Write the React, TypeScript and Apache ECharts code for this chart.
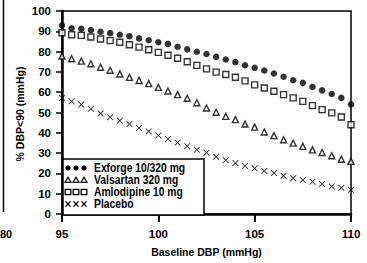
import React, { useEffect, useRef } from "react";
import * as echarts from "echarts";

const baselineDBP = [95, 95.5, 96, 96.5, 97, 97.5, 98, 98.5, 99, 99.5, 100, 100.5, 101, 101.5, 102, 102.5, 103, 103.5, 104, 104.5, 105, 105.5, 106, 106.5, 107, 107.5, 108, 108.5, 109, 109.5, 110];
const exforge = [93, 91.5, 91.2, 90.6, 89.8, 89.1, 88.3, 87.6, 86.5, 85.6, 84.6, 83.8, 82.4, 81.1, 79.9, 78.8, 77.4, 76.1, 74.8, 73.3, 72.0, 70.7, 69.2, 67.6, 65.9, 64.6, 62.6, 60.9, 59.1, 57.2, 54];
const valsartan = [77.8, 76.5, 75.3, 74, 72.3, 70.8, 69.0, 67.3, 65.8, 64.2, 62.4, 60.6, 58.8, 57.0, 54.8, 52.2, 50.1, 48.1, 46.5, 44.3, 42.8, 40.4, 38.6, 36.6, 34.9, 33.3, 31.6, 30.3, 28.7, 27.0, 25.9];
const amlodipine = [89.3, 88.3, 88, 87.2, 86.2, 85.4, 84.6, 83.4, 82.2, 80.9, 79.6, 78.2, 76.7, 75.0, 73.2, 71.5, 69.9, 68.7, 67.4, 65.6, 63.6, 62.1, 60.5, 58.8, 57.2, 55.5, 53.4, 51.4, 49.8, 47.8, 44];
const placebo = [57.2, 55.5, 53.9, 51.8, 49.5, 47.7, 46.0, 44.3, 42.4, 40.7, 38.7, 37.0, 35.2, 33.4, 31.7, 30.2, 28.2, 26.5, 25.1, 23.7, 22.5, 21.2, 20.2, 18.8, 17.6, 16.7, 15.9, 14.8, 13.6, 12.9, 11.9];

const legendNames = ["Exforge 10/320 mg", "Valsartan 320 mg", "Amlodipine 10 mg", "Placebo"];
const yAxisName = "% DBP<90 (mmHg)";

const FONT = "'Liberation Sans', Arial, sans-serif";
const CROSS = "path://M0,1L1,0L5,4L9,0L10,1L6,5L10,9L9,10L5,6L1,10L0,9L4,5Z";

function legendMarker(kind: number, cx: number, cy: number): any {
  const black = "#000";
  if (kind === 0) return { type: "circle", z: 101, shape: { cx, cy, r: 2.7 }, style: { fill: black } };
  if (kind === 1)
    return {
      type: "polygon",
      z: 101,
      shape: { points: [[cx, cy - 2.8], [cx + 3, cy + 2.4], [cx - 3, cy + 2.4]] },
      style: { fill: "#fff", stroke: black, lineWidth: 1.2 },
    };
  if (kind === 2)
    return { type: "rect", z: 101, shape: { x: cx - 2.8, y: cy - 2.6, width: 5.6, height: 5.2 }, style: { fill: "#fff", stroke: black, lineWidth: 1.3 } };
  return {
    type: "group",
    z: 101,
    children: [
      { type: "line", z: 101, shape: { x1: cx - 2.6, y1: cy - 2.6, x2: cx + 2.6, y2: cy + 2.6 }, style: { stroke: black, lineWidth: 1.3 } },
      { type: "line", z: 101, shape: { x1: cx + 2.6, y1: cy - 2.6, x2: cx - 2.6, y2: cy + 2.6 }, style: { stroke: black, lineWidth: 1.3 } },
    ],
  };
}

export default function App() {
  const ref = useRef<HTMLDivElement>(null);
  useEffect(() => {
    if (!ref.current) return;
    const chart = echarts.init(ref.current, null, { renderer: "svg" });
    const pts = (arr: number[]) => baselineDBP.map((x, i) => [x, arr[i]]);
    const graphics: any[] = [
      {
        type: "rect",
        shape: { x: 63, y: 159, width: 141, height: 56 },
        style: { fill: "#fff", stroke: "#000", lineWidth: 1.5 },
        z: 100,
      },
      {
        type: "line",
        shape: { x1: 3.5, y1: 0, x2: 3.5, y2: 212 },
        style: { stroke: "#000", lineWidth: 1.5 },
      },
      {
        type: "text",
        x: 0,
        y: 234,
        style: { text: "80", font: `bold 11px ${FONT}`, fill: "#000", verticalAlign: "middle" },
      },
      {
        type: "text",
        x: 20,
        y: 114,
        rotation: Math.PI / 2,
        style: { text: yAxisName, font: `bold 10.5px ${FONT}`, fill: "#000", align: "center", verticalAlign: "middle" },
      },
    ];
    legendNames.forEach((name, i) => {
      const y = 168 + i * 12;
      [68, 76, 84].forEach((cx) => graphics.push(legendMarker(i, cx, y)));
      graphics.push({
        type: "text",
        x: 94,
        y,
        z: 101,
        scaleX: 0.86,
        style: { text: name, font: `bold 12px ${FONT}`, fill: "#000", verticalAlign: "middle" },
      });
    });
    chart.setOption({
      animation: false,
      grid: {
        left: 62,
        right: 16,
        top: 11,
        bottom: 49,
        show: true,
        borderColor: "#000",
        borderWidth: 1.5,
        backgroundColor: "transparent",
      },
      xAxis: {
        type: "value",
        min: 95,
        max: 110,
        interval: 5,
        name: "Baseline DBP (mmHg)",
        nameLocation: "middle",
        nameGap: 32,
        nameTextStyle: { fontFamily: FONT, fontWeight: "bold", fontSize: 10.5, color: "#000" },
        axisLine: { lineStyle: { color: "#000", width: 2.5 } },
        axisTick: { length: 8, lineStyle: { color: "#000", width: 2 } },
        axisLabel: { fontFamily: FONT, fontWeight: "bold", fontSize: 11.5, color: "#000", margin: 14 },
        splitLine: { show: false },
      },
      yAxis: {
        type: "value",
        min: 0,
        max: 100,
        interval: 10,
        axisLine: { lineStyle: { color: "#000", width: 2.5 } },
        axisTick: { length: 6, lineStyle: { color: "#000", width: 1.5 } },
        axisLabel: { fontFamily: FONT, fontWeight: "bold", fontSize: 11.5, color: "#000", margin: 11 },
        splitLine: { show: false },
      },
      series: [
        {
          type: "scatter",
          name: legendNames[0],
          data: pts(exforge),
          symbol: "circle",
          symbolSize: 6.5,
          itemStyle: { color: "#000" },
        },
        {
          type: "scatter",
          name: legendNames[2],
          data: pts(amlodipine),
          symbol: "rect",
          symbolSize: 6,
          itemStyle: { color: "#fff", borderColor: "#000", borderWidth: 1.4 },
        },
        {
          type: "scatter",
          name: legendNames[1],
          data: pts(valsartan),
          symbol: "triangle",
          symbolSize: 6,
          itemStyle: { color: "#fff", borderColor: "#000", borderWidth: 1.4 },
        },
        {
          type: "scatter",
          name: legendNames[3],
          data: pts(placebo),
          symbol: CROSS,
          symbolSize: 6.5,
          itemStyle: { color: "#000" },
        },
      ],
      graphic: graphics,
    });
    return () => chart.dispose();
  }, []);
  return <div ref={ref} style={{ position: "fixed", left: 0, top: 0, width: 367, height: 263, background: "#fff" }} />;
}
